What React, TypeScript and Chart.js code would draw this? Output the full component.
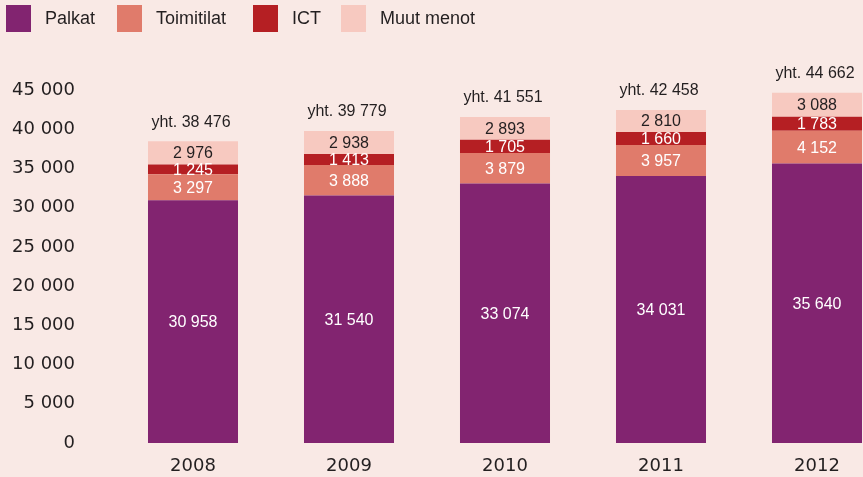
import React, { useEffect, useRef } from "react";
import { Chart, registerables } from "chart.js";

Chart.register(...registerables);

const years = ["2008", "2009", "2010", "2011", "2012"];
const palkat = [30958, 31540, 33074, 34031, 35640];
const toimitilat = [3297, 3888, 3879, 3957, 4152];
const ict = [1245, 1413, 1705, 1660, 1783];
const muut = [2976, 2938, 2893, 2810, 3088];
const totals = [38476, 39779, 41551, 42458, 44662];
const seriesNames = ["Palkat", "Toimitilat", "ICT", "Muut menot"];
const seriesColors = ["#822470", "#e07b6b", "#b51f23", "#f7c9c0"];
const labelColors = ["#ffffff", "#ffffff", "#ffffff", "#231f20"];
const legendLeft = [6, 117, 253, 341];

const BG = "#f9e9e5";
const TEXT = "#231f20";

const fmt = (v: number) => {
  const s = Math.round(v).toString();
  return s.replace(/\B(?=(\d{3})+(?!\d))/g, " ");
};

const labelPlugin = {
  id: "segLabels",
  afterDatasetsDraw(chart: any) {
    const ctx = chart.ctx;
    ctx.save();
    ctx.textAlign = "center";
    ctx.textBaseline = "middle";
    ctx.font = "16px 'Liberation Sans', Arial, sans-serif";
    chart.data.datasets.forEach((ds: any, di: number) => {
      const meta = chart.getDatasetMeta(di);
      meta.data.forEach((el: any, i: number) => {
        const cy = (el.y + el.base) / 2;
        ctx.fillStyle = labelColors[di];
        ctx.fillText(fmt(ds.data[i]), el.x, cy + 1);
      });
    });
    const lastMeta = chart.getDatasetMeta(chart.data.datasets.length - 1);
    lastMeta.data.forEach((el: any, i: number) => {
      ctx.fillStyle = TEXT;
      ctx.fillText("yht. " + fmt(totals[i]), el.x - 2, el.y - 19);
    });
    ctx.restore();
  },
};

export default function App() {
  const ref = useRef<HTMLCanvasElement | null>(null);
  useEffect(() => {
    if (!ref.current) return;
    const data = [palkat, toimitilat, ict, muut];
    const chart = new Chart(ref.current, {
      type: "bar",
      data: {
        labels: years,
        datasets: seriesNames.map((n, i) => ({
          label: n,
          data: data[i],
          backgroundColor: seriesColors[i],
          borderWidth: 0,
          barPercentage: 0.577,
          categoryPercentage: 1,
        })),
      },
      options: {
        responsive: false,
        animation: false,
        devicePixelRatio: 1,
        layout: { padding: { top: 90, right: 5, left: 0, bottom: 0 } },
        plugins: { legend: { display: false }, tooltip: { enabled: false } },
        scales: {
          x: {
            stacked: true,
            grid: { display: false, drawTicks: false },
            border: { display: false },
            ticks: {
              padding: 13,
              color: TEXT,
              font: { family: "'DejaVu Sans', sans-serif", size: 18 },
            },
            afterFit: (s: any) => {
              s.height = 34;
            },
          },
          y: {
            stacked: true,
            min: 0,
            max: 45000,
            grid: { display: false, drawTicks: false },
            border: { display: false },
            ticks: {
              stepSize: 5000,
              padding: 40,
              color: TEXT,
              font: { family: "'DejaVu Sans', sans-serif", size: 18 },
              callback: (v: any) => fmt(Number(v)),
            },
            afterFit: (s: any) => {
              s.width = 115;
              s.paddingTop = 0;
              s.paddingBottom = 0;
            },
          },
        },
      },
      plugins: [labelPlugin],
    });
    return () => chart.destroy();
  }, []);

  return (
    <div
      style={{
        position: "fixed",
        left: 0,
        top: 0,
        width: 863,
        height: 477,
        overflow: "hidden",
        background: BG,
      }}
    >
      <canvas ref={ref} width={900} height={477} style={{ position: "absolute", left: 0, top: 0, width: 900, height: 477 }} />
      {seriesNames.map((n, i) => (
        <div
          key={n}
          style={{
            position: "absolute",
            left: legendLeft[i],
            top: 5,
            height: 27,
            display: "flex",
            alignItems: "center",
            fontFamily: "'Liberation Sans', Arial, sans-serif",
            fontSize: 18,
            color: TEXT,
            whiteSpace: "nowrap",
          }}
        >
          <span style={{ display: "inline-block", width: 25, height: 27, background: seriesColors[i], marginRight: 14 }} />
          <span>{n}</span>
        </div>
      ))}
    </div>
  );
}
